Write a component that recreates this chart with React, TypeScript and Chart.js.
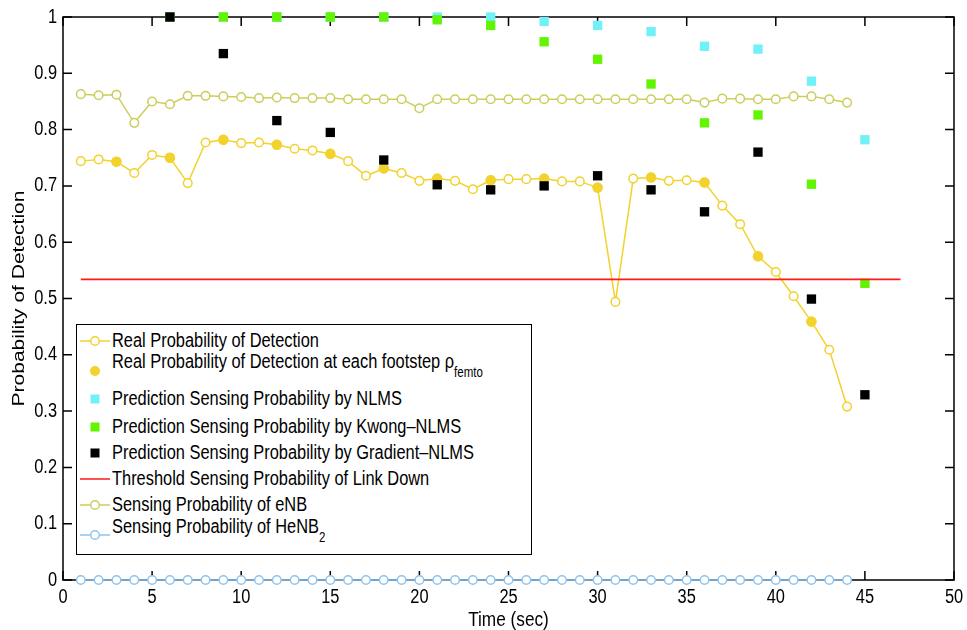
import React, { useEffect, useRef } from "react";
import { Chart, registerables } from "chart.js";

Chart.register(...registerables);

// ---------- data ----------
const timeSteps = [
  1, 2, 3, 4, 5, 6, 7, 8, 9, 10, 11, 12, 13, 14, 15, 16, 17, 18, 19, 20, 21, 22,
  23, 24, 25, 26, 27, 28, 29, 30, 31, 32, 33, 34, 35, 36, 37, 38, 39, 40, 41, 42,
  43, 44,
];
const realProb = [
  0.744, 0.747, 0.743, 0.723, 0.755, 0.75, 0.705, 0.777, 0.782, 0.776,
  0.777, 0.773, 0.766, 0.763, 0.757, 0.744, 0.718, 0.731, 0.723, 0.709,
  0.713, 0.709, 0.694, 0.71, 0.712, 0.712, 0.713, 0.708, 0.708, 0.697,
  0.494, 0.713, 0.715, 0.709, 0.71, 0.706, 0.665, 0.632, 0.575, 0.547,
  0.504, 0.459, 0.409, 0.308,
];
const footstepTimes = [3, 6, 9, 12, 15, 18, 21, 24, 27, 30, 33, 36, 39, 42];
const footstepProb = [
  0.743, 0.75, 0.782, 0.773, 0.757, 0.731, 0.713, 0.71, 0.713, 0.697, 0.715,
  0.706, 0.575, 0.459,
];
const eNBProb = [
  0.863, 0.861, 0.862, 0.812, 0.85, 0.845, 0.86, 0.86, 0.859, 0.858,
  0.856, 0.857, 0.856, 0.856, 0.856, 0.854, 0.854, 0.854, 0.854, 0.838,
  0.854, 0.854, 0.854, 0.854, 0.854, 0.854, 0.854, 0.854, 0.854, 0.854,
  0.854, 0.854, 0.854, 0.854, 0.854, 0.848, 0.855, 0.855, 0.854, 0.854,
  0.859, 0.859, 0.854, 0.848,
];
const heNB2Prob = [
  0, 0, 0, 0, 0, 0, 0, 0, 0, 0, 0, 0, 0, 0, 0, 0, 0, 0, 0, 0, 0, 0,
  0, 0, 0, 0, 0, 0, 0, 0, 0, 0, 0, 0, 0, 0, 0, 0, 0, 0, 0, 0, 0, 0,
];
const predTimes = [6, 9, 12, 15, 18, 21, 24, 27, 30, 33, 36, 39, 42, 45];
const nlmsPred = [
  1, 1, 1, 1, 1, 1, 1, 0.992, 0.985, 0.974, 0.948, 0.943, 0.886, 0.782,
];
const kwongPred = [
  1, 1, 1, 1, 1, 0.995, 0.985, 0.956, 0.925, 0.881, 0.812, 0.826, 0.703, 0.527,
];
const gradientPred = [
  1, 0.935, 0.816, 0.795, 0.746, 0.702, 0.693, 0.7, 0.718, 0.693, 0.654, 0.76,
  0.499, 0.329,
];
const thresholdTimes = [1, 47];
const thresholdProb = [0.534, 0.534];

const xTicks = [0, 5, 10, 15, 20, 25, 30, 35, 40, 45, 50];
const yTickLabels = ["0", "0.1", "0.2", "0.3", "0.4", "0.5", "0.6", "0.7", "0.8", "0.9", "1"];
const xTitle = "Time (sec)";
const yTitle = "Probability of Detection";

// ---------- styles ----------
const GOLD = "#F2D22C";
const OLIVE = "#CDCD5C";
const LIGHTBLUE = "#8CC4F0";
const CYAN = "#72F0F8";
const LIME = "#62F400";
const RED = "#FF1A1A";
const FONT = "'Liberation Sans', Arial, sans-serif";
const SQUEEZE = 0.82;

const pts = (xs: number[], ys: number[]) => xs.map((x, i) => ({ x, y: ys[i] }));

const boxPlugin = {
  id: "matlabBox",
  beforeDatasetsDraw(chart: any) {
    const { ctx, chartArea, scales } = chart;
    const { left, right, top, bottom } = chartArea;
    const xs = scales.x;
    const ys = scales.y;
    const tl = 9;
    ctx.save();
    ctx.strokeStyle = "#000";
    ctx.lineWidth = 1.5;
    ctx.strokeRect(left, top, right - left, bottom - top);
    ctx.beginPath();
    xs.ticks.forEach((t: any) => {
      const p = xs.getPixelForValue(t.value);
      ctx.moveTo(p, bottom);
      ctx.lineTo(p, bottom - tl);
      ctx.moveTo(p, top);
      ctx.lineTo(p, top + tl);
    });
    ys.ticks.forEach((t: any) => {
      const p = ys.getPixelForValue(t.value);
      ctx.moveTo(left, p);
      ctx.lineTo(left + tl, p);
      ctx.moveTo(right, p);
      ctx.lineTo(right - tl, p);
    });
    ctx.stroke();

    // tick labels (horizontally condensed like the reference)
    ctx.fillStyle = "#000";
    ctx.font = `20px ${FONT}`;
    ctx.textBaseline = "middle";
    ctx.textAlign = "right";
    ys.ticks.forEach((t: any, i: number) => {
      const p = ys.getPixelForValue(t.value);
      ctx.save();
      ctx.translate(left - 6, p);
      ctx.scale(SQUEEZE, 1);
      ctx.fillText(yTickLabels[i], 0, 0);
      ctx.restore();
    });
    ctx.textAlign = "center";
    xs.ticks.forEach((t: any) => {
      const p = xs.getPixelForValue(t.value);
      ctx.save();
      ctx.translate(p, bottom + 17);
      ctx.scale(SQUEEZE, 1);
      ctx.fillText(String(t.value), 0, 0);
      ctx.restore();
    });

    // axis titles
    ctx.font = `21px ${FONT}`;
    ctx.save();
    ctx.translate((left + right) / 2, bottom + 40);
    ctx.scale(SQUEEZE, 1);
    ctx.fillText(xTitle, 0, 0);
    ctx.restore();
    ctx.save();
    ctx.translate(19, (top + bottom) / 2);
    ctx.scale(SQUEEZE, 1);
    ctx.rotate(-Math.PI / 2);
    ctx.fillText(yTitle, 0, 0);
    ctx.restore();
    ctx.restore();
  },
};

function LegendMarker({ kind, color, cy }: { kind: string; color: string; cy: number }) {
  return (
    <svg
      width={36}
      height={20}
      style={{ position: "absolute", left: 78, top: cy - 10, overflow: "visible" }}
    >
      {(kind === "lineCircle" || kind === "line") && (
        <line x1={2} y1={10} x2={32} y2={10} stroke={color} strokeWidth={1.5} />
      )}
      {kind === "lineCircle" && (
        <circle cx={17} cy={10} r={4.3} fill="#fff" stroke={color} strokeWidth={1.5} />
      )}
      {kind === "dot" && <circle cx={17} cy={10} r={5} fill={color} />}
      {kind === "square" && <rect x={12.5} y={5.5} width={9} height={9} fill={color} />}
    </svg>
  );
}

function LegendText({ cy, children }: { cy: number; children: React.ReactNode }) {
  return (
    <div
      style={{
        position: "absolute",
        left: 112,
        top: cy - 12,
        height: 24,
        lineHeight: "24px",
        font: `20px ${FONT}`,
        color: "#000",
        whiteSpace: "nowrap",
        transform: `scaleX(${SQUEEZE})`,
        transformOrigin: "0 50%",
      }}
    >
      {children}
    </div>
  );
}

export default function App() {
  const canvasRef = useRef<HTMLCanvasElement | null>(null);

  useEffect(() => {
    if (!canvasRef.current) return;
    const openCircle = (color: string) => ({
      borderColor: color,
      backgroundColor: color,
      pointBackgroundColor: "#fff",
      pointBorderColor: color,
      pointBorderWidth: 1.5,
      pointRadius: 4.3,
      borderWidth: 1.5,
      showLine: true,
      clip: false as const,
    });
    const squares = (color: string) => ({
      pointStyle: "rect" as const,
      pointRadius: 6.6,
      pointBorderWidth: 0,
      pointBackgroundColor: color,
      pointBorderColor: color,
      backgroundColor: color,
      borderColor: color,
      showLine: false,
      clip: false as const,
    });

    const chart = new Chart(canvasRef.current, {
      type: "scatter",
      data: {
        datasets: [
          { label: "Real Probability of Detection", data: pts(timeSteps, realProb), ...openCircle(GOLD), order: 8 },
          {
            label: "Real Probability of Detection at each footstep",
            data: pts(footstepTimes, footstepProb),
            pointRadius: 5.2,
            pointBorderWidth: 0,
            pointBackgroundColor: GOLD,
            backgroundColor: GOLD,
            borderColor: GOLD,
            showLine: false,
            clip: false,
            order: 7,
          },
          { label: "Prediction Sensing Probability by NLMS", data: pts(predTimes, nlmsPred), ...squares(CYAN), order: 6 },
          { label: "Prediction Sensing Probability by Kwong-NLMS", data: pts(predTimes, kwongPred), ...squares(LIME), order: 5 },
          { label: "Prediction Sensing Probability by Gradient-NLMS", data: pts(predTimes, gradientPred), ...squares("#000"), order: 4 },
          {
            label: "Threshold Sensing Probability of Link Down",
            data: pts(thresholdTimes, thresholdProb),
            borderColor: RED,
            backgroundColor: RED,
            borderWidth: 1.8,
            pointRadius: 0,
            showLine: true,
            clip: false,
            order: 3,
          },
          { label: "Sensing Probability of eNB", data: pts(timeSteps, eNBProb), ...openCircle(OLIVE), order: 2 },
          { label: "Sensing Probability of HeNB2", data: pts(timeSteps, heNB2Prob), ...openCircle(LIGHTBLUE), order: 1 },
        ],
      },
      options: {
        animation: false,
        responsive: true,
        maintainAspectRatio: false,
        layout: { padding: { top: 17, right: 13, left: 0, bottom: 0 } },
        plugins: { legend: { display: false }, tooltip: { enabled: false } },
        elements: { line: { tension: 0 } },
        scales: {
          x: {
            type: "linear",
            min: 0,
            max: 50,
            afterBuildTicks: (scale: any) => {
              scale.ticks = xTicks.map((v) => ({ value: v }));
            },
            ticks: { display: false },
            grid: { display: false, drawTicks: false },
            border: { display: false },
            title: { display: false },
            afterFit: (scale: any) => {
              scale.height = 50;
              scale.paddingLeft = 0;
              scale.paddingRight = 0;
            },
          },
          y: {
            type: "linear",
            min: 0,
            max: 1,
            afterBuildTicks: (scale: any) => {
              scale.ticks = yTickLabels.map((_, i) => ({ value: i / 10 }));
            },
            ticks: { display: false },
            grid: { display: false, drawTicks: false },
            border: { display: false },
            title: { display: false },
            afterFit: (scale: any) => {
              scale.width = 63;
              scale.paddingTop = 0;
              scale.paddingBottom = 0;
            },
          },
        },
      },
      plugins: [boxPlugin],
    });
    return () => chart.destroy();
  }, []);

  return (
    <div
      style={{
        position: "fixed",
        left: 0,
        top: 0,
        width: 967,
        height: 630,
        background: "#fff",
        overflow: "hidden",
      }}
    >
      <canvas ref={canvasRef} />
      <div
        style={{
          position: "absolute",
          left: 76,
          top: 324,
          width: 456,
          height: 231,
          boxSizing: "border-box",
          border: "1.5px solid #000",
          background: "#fff",
        }}
      />
      <LegendMarker kind="lineCircle" color={GOLD} cy={340.7} />
      <LegendText cy={340.7}>Real Probability of Detection</LegendText>
      <LegendMarker kind="dot" color={GOLD} cy={370.7} />
      <LegendText cy={361.7}>
        Real Probability of Detection at each footstep ρ
        <span style={{ fontSize: 14, position: "relative", top: 9 }}>femto</span>
      </LegendText>
      <LegendMarker kind="square" color={CYAN} cy={399.3} />
      <LegendText cy={399.3}>Prediction Sensing Probability by NLMS</LegendText>
      <LegendMarker kind="square" color={LIME} cy={426.7} />
      <LegendText cy={426.7}>Prediction Sensing Probability by Kwong–NLMS</LegendText>
      <LegendMarker kind="square" color="#000" cy={453.3} />
      <LegendText cy={453.3}>Prediction Sensing Probability by Gradient–NLMS</LegendText>
      <LegendMarker kind="line" color={RED} cy={479} />
      <LegendText cy={479}>Threshold Sensing Probability of Link Down</LegendText>
      <LegendMarker kind="lineCircle" color={OLIVE} cy={505} />
      <LegendText cy={505}>Sensing Probability of eNB</LegendText>
      <LegendMarker kind="lineCircle" color={LIGHTBLUE} cy={535} />
      <LegendText cy={526.7}>
        Sensing Probability of HeNB
        <span style={{ fontSize: 14, position: "relative", top: 9 }}>2</span>
      </LegendText>
    </div>
  );
}
